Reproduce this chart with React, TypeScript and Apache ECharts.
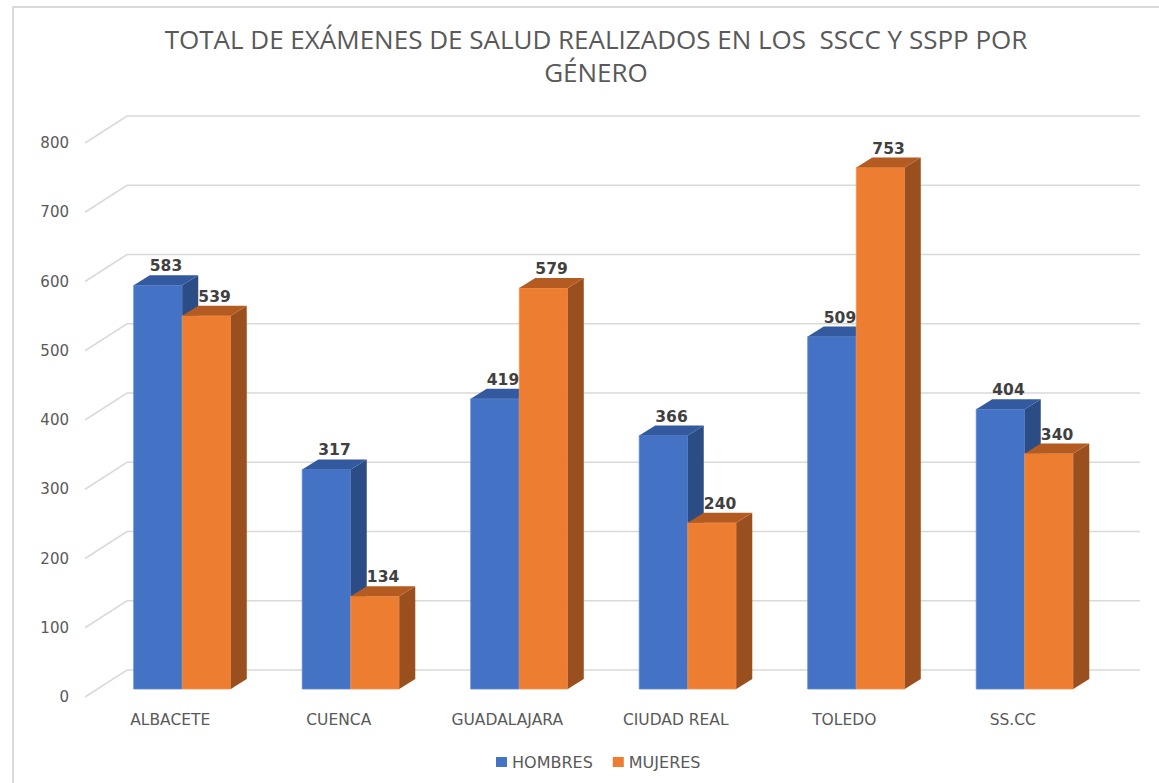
import React, { useEffect, useRef } from "react";
import * as echarts from "echarts";

const categories = ["ALBACETE", "CUENCA", "GUADALAJARA", "CIUDAD REAL", "TOLEDO", "SS.CC"];
const hombres = [583, 317, 419, 366, 509, 404];
const mujeres = [539, 134, 579, 240, 753, 340];
const yTicks = [0, 100, 200, 300, 400, 500, 600, 700, 800];
const seriesNames = ["HOMBRES", "MUJERES"];
const titleText = "TOTAL DE EXÁMENES DE SALUD REALIZADOS EN LOS  SSCC Y SSPP POR\nGÉNERO";

const COLORS = [
  { front: "#4472C4", side: "#2C4C85", top: "#33599E", edge: "#5C88D4" },
  { front: "#ED7D31", side: "#9A4F1E", top: "#B45B22", edge: "#F39550" },
];

const DX = 16;
const DY = -10;
const BAR_SHIFT_Y = -8;
const PAIR_SHIFT_X = 12;
const BAR_FRAC = 0.288;

function makeBarRender(idx: number) {
  return (params: any, api: any) => {
    const i = api.value(0);
    const v = api.value(1);
    const base = api.coord([i, 0]);
    const topP = api.coord([i, v]);
    const band = api.size([1, 0])[0];
    const w = band * BAR_FRAC;
    const cx = base[0] + PAIR_SHIFT_X;
    const y0 = base[1] + BAR_SHIFT_Y;
    const y1 = topP[1] + BAR_SHIFT_Y;
    const x0 = idx === 0 ? cx - w : cx;
    const x1 = x0 + w;
    const c = COLORS[idx];
    return {
      type: "group",
      children: [
        {
          type: "rect",
          shape: { x: x0, y: y1, width: w, height: y0 - y1 },
          style: { fill: c.front, stroke: c.edge, lineWidth: 0.8 },
        },
        {
          type: "polygon",
          shape: { points: [[x1, y1], [x1 + DX, y1 + DY], [x1 + DX, y0 + DY], [x1, y0]] },
          style: { fill: c.side },
        },
        {
          type: "polygon",
          shape: { points: [[x0, y1], [x0 + DX, y1 + DY], [x1 + DX, y1 + DY], [x1, y1]] },
          style: { fill: c.top },
        },
        {
          type: "text",
          x: (x0 + x1) / 2 + DX / 2,
          y: y1 - 19,
          style: {
            text: String(v),
            fill: "#404040",
            font: "bold 15.5px 'DejaVu Sans'",
            textAlign: "center",
            textVerticalAlign: "middle",
          },
        },
      ],
    };
  };
}

export default function App() {
  const ref = useRef<HTMLDivElement>(null);
  useEffect(() => {
    document.body.style.margin = "0";
    if (!ref.current) return;
    const chart = echarts.init(ref.current, null, { renderer: "svg" });
    const gridData = yTicks.map((t) => [0, t]);
    chart.setOption({
      animation: false,
      backgroundColor: "#ffffff",
      title: {
        text: titleText,
        left: 596,
        top: 22,
        padding: 0,
        textAlign: "center",
        textStyle: {
          fontFamily: "Open Sans",
          fontSize: 26,
          fontWeight: "normal",
          color: "#595959",
          lineHeight: 33,
        },
      },
      legend: {
        data: seriesNames,
        left: 496,
        top: 754,
        padding: 0,
        itemWidth: 11,
        itemHeight: 10,
        itemGap: 20,
        icon: "rect",
        textStyle: { color: "#595959", fontSize: 16, fontFamily: "DejaVu Sans" },
      },
      graphic: [
        {
          type: "rect",
          shape: { x: 13, y: 7, width: 1300, height: 1000 },
          style: { fill: "none", stroke: "#D9D9D9", lineWidth: 2 },
          silent: true,
          z: -10,
        },
      ],
      grid: { left: 86, right: 62, top: 143, bottom: 86 },
      xAxis: {
        type: "category",
        data: categories,
        axisLine: { show: false },
        axisTick: { show: false },
        splitLine: { show: false },
        axisLabel: {
          color: "#595959",
          fontSize: 15.5,
          fontFamily: "DejaVu Sans",
          margin: 15,
          interval: 0,
        },
      },
      yAxis: {
        type: "value",
        min: 0,
        max: 800,
        interval: 100,
        axisLine: { show: false },
        axisTick: { show: false },
        splitLine: { show: false },
        axisLabel: {
          color: "#595959",
          fontSize: 15,
          fontFamily: "DejaVu Sans",
          margin: 17,
        },
      },
      series: [
        {
          type: "custom",
          name: "grid",
          z: 1,
          silent: true,
          encode: { x: 0, y: 1 },
          data: gridData,
          renderItem: (params: any, api: any) => {
            const p = api.coord([0, api.value(1)]);
            const cs = params.coordSys;
            const y = p[1];
            return {
              type: "polyline",
              shape: {
                points: [
                  [cs.x - 1, y],
                  [cs.x + 41, y - 27],
                  [cs.x + cs.width + 43, y - 27],
                ],
              },
              style: { stroke: "#D9D9D9", lineWidth: 1.5, fill: "none" },
            };
          },
        },
        {
          type: "custom",
          name: seriesNames[0],
          z: 2,
          itemStyle: { color: COLORS[0].front },
          encode: { x: 0, y: 1 },
          data: hombres.map((v, i) => [i, v]),
          renderItem: makeBarRender(0),
        },
        {
          type: "custom",
          name: seriesNames[1],
          z: 3,
          itemStyle: { color: COLORS[1].front },
          encode: { x: 0, y: 1 },
          data: mujeres.map((v, i) => [i, v]),
          renderItem: makeBarRender(1),
        },
      ],
    });
    return () => chart.dispose();
  }, []);
  return <div ref={ref} style={{ width: 1159, height: 783 }} />;
}
